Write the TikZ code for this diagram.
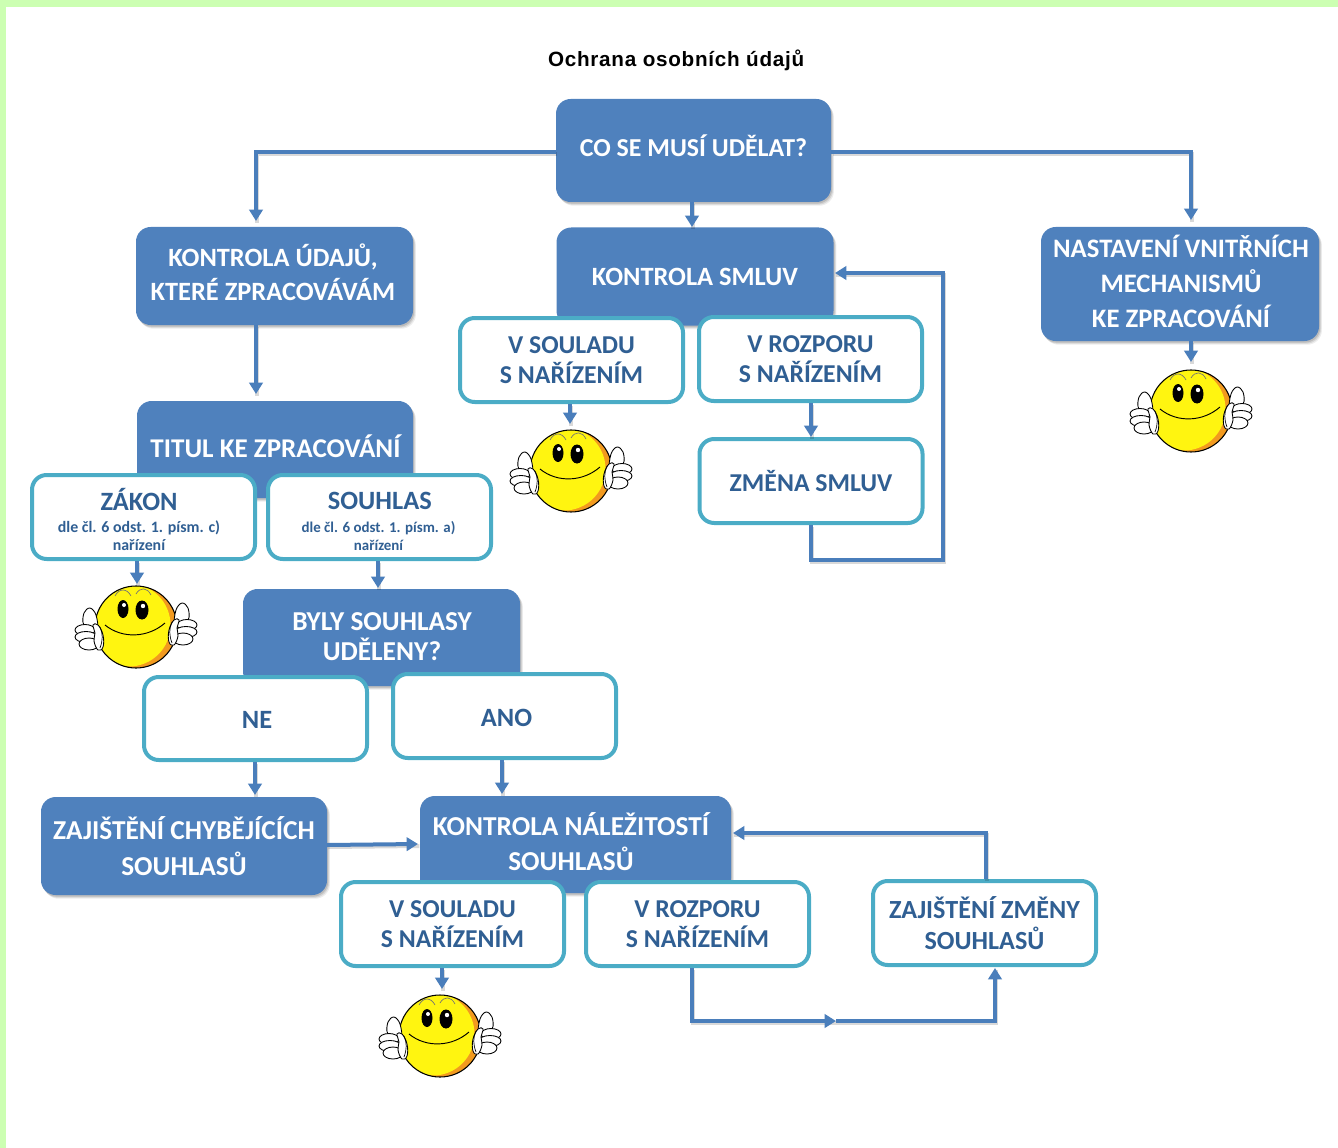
\documentclass[tikz,border=0pt]{standalone}
\usepackage{fontspec}
\setmainfont{Carlito}
\newfontfamily\titlefont[LetterSpace=3.5]{Liberation Sans}
\usetikzlibrary{arrows.meta,shadows,calc}
\definecolor{bluefill}{HTML}{4F81BD}
\definecolor{tealline}{HTML}{4BACC6}
\definecolor{arrowcol}{HTML}{4A7EBB}
\definecolor{navytext}{HTML}{305F93}
\definecolor{pagegreen}{HTML}{CCFFB2}
\definecolor{smileyyellow}{HTML}{FFF510}
\definecolor{smileyorange}{HTML}{F29A1F}
\tikzset{
  boxsize/.style 2 args={minimum width=#1*.75pt,minimum height=#2*.75pt},
  fs/.style 2 args={font=\bfseries\fontsize{#1}{#2}\selectfont},
  bluebox/.style={rectangle,rounded corners=11pt,fill=bluefill,text=white,align=center,inner sep=0pt,
    fs={19.8}{25.5},
    drop shadow={shadow xshift=2.2pt,shadow yshift=-2.8pt,opacity=.07,fill=black},
    drop shadow={shadow xshift=1.5pt,shadow yshift=-2pt,opacity=.1,fill=black},
    drop shadow={shadow xshift=.8pt,shadow yshift=-1.2pt,opacity=.12,fill=black}},
  bluetext/.style={text=white,align=center,inner sep=0pt},
  whitebox/.style={rectangle,rounded corners=11pt,draw=tealline,line width=3pt,fill=white,text=navytext,align=center,inner sep=0pt,
    fs={19.3}{22.5}},
  whitetext/.style={text=navytext,align=center,inner sep=0pt},
  lineshadow/.style={preaction={draw=black,opacity=.15,line width=3pt,-,transform canvas={shift={(1pt,-1.5pt)}}}},
  arr/.style={draw=arrowcol,line width=3pt,-{Triangle[length=8.5pt,width=10pt]},line join=miter,lineshadow},
  handline/.style={draw=black,line width=.65pt,fill=white,line join=round},
  smiley/.pic={
    \fill[smileyorange] (0,0) circle (41);
    \begin{scope}
      \clip (0,0) circle (41);
      \fill[smileyyellow] (-7,-2) circle (41.5);
    \end{scope}
    \draw[black,line width=.8pt] (0,0) circle (41);
    \draw[black!55,line width=.5pt] (-21,-31) .. controls (-17,-39) and (-9,-39) .. (-5,-31);
    \draw[black!55,line width=.5pt] (0,-33) .. controls (4,-40) and (11,-40) .. (15,-32);
    \fill[black] (-13,-18) ellipse (5.5 and 9);
    \fill[black] (6,-17) ellipse (6.5 and 9.5);
    \fill[white] (-12,-22) circle (2);
    \fill[white] (7,-21) circle (2.2);
    \draw[black,line width=.7pt] (-31,-2) .. controls (-14,12) and (12,11) .. (29,-4);
    \foreach \sx/\dy in {1/0,-1/-5}{
      \begin{scope}[shift={(0,\dy)},xscale=\sx]
        \draw[handline] plot[smooth cycle,tension=.6] coordinates {(-39,3) (-40,-12) (-46,-19) (-52,-14) (-52,-2)};
        \draw[handline] (-51,3) ellipse (10 and 5.5);
        \draw[handline] (-50,10) ellipse (11 and 5.5);
        \draw[handline] (-47,17) ellipse (10 and 6);
        \draw[handline] plot[smooth cycle,tension=.7] coordinates {(-43,-2) (-38,-2) (-33,8) (-33,20) (-38,23) (-42,14) (-41,6)};
        \draw[black,line width=.5pt] (-36,0) .. controls (-33,7) and (-33,13) .. (-36,21);
      \end{scope}
    }
  }
}
\begin{document}
\begin{tikzpicture}[x=.75pt,y=-.75pt]
\useasboundingbox (0,0) rectangle (1338,1148);
\fill[pagegreen] (0,0) rectangle (1338,7);
\fill[pagegreen] (0,0) rectangle (6,1148);

\node[font=\titlefont\fontsize{15.5}{18}\selectfont,text=black] (title) at (676.5,60) {\textbf{Ochrana osobních údajů}};

% blue boxes
\node[bluebox,boxsize={275}{103}] (co) at (693.5,150.5) {};
\node[bluetext,fs={19.4}{25}] (coT) at (693.5,145.5) {CO SE MUSÍ UDĚLAT?};
\node[bluebox,boxsize={277}{98}] (kudaje) at (274.5,276) {};
\node[bluetext,fs={19.8}{25.5}] (kudajeT) at (273,272) {KONTROLA ÚDAJŮ,\\KTERÉ ZPRACOVÁVÁM};
\node[bluebox,boxsize={277}{98}] (ksmluv) at (695,276.5) {KONTROLA SMLUV};
\node[bluebox,boxsize={278}{114}] (nast) at (1180,284) {};
\node[bluetext,fs={20}{26.2}] (nastT) at (1181,281.5) {NASTAVENÍ VNITŘNÍCH\\MECHANISMŮ\\KE ZPRACOVÁNÍ};
\node[bluebox,boxsize={276}{97}] (titul) at (275,449.5) {};
\node[bluetext,fs={20.3}{25}] (titulT) at (275.5,446) {TITUL KE ZPRACOVÁNÍ};
\node[bluebox,boxsize={277}{97}] (byly) at (381.5,637.5) {};
\node[bluetext,fs={20.5}{22.5}] (bylyT) at (382,636.5) {BYLY SOUHLASY\\UDĚLENY?};
\node[bluebox,boxsize={286}{98},fs={20.5}{27}] (zchyb) at (184,846) {ZAJIŠTĚNÍ CHYBĚJÍCÍCH\\SOUHLASŮ};
\node[bluebox,boxsize={311}{97}] (knal) at (575.5,844.5) {};
\node[bluetext,fs={20.5}{26}] (knalT) at (571,841.5) {KONTROLA NÁLEŽITOSTÍ\\SOUHLASŮ};

% white boxes
\node[whitebox,boxsize={223}{84}] (soulad1) at (571.5,360) {V SOULADU\\S NAŘÍZENÍM};
\node[whitebox,boxsize={223}{84}] (rozpor1) at (810.5,359) {V ROZPORU\\S NAŘÍZENÍM};
\node[whitebox,boxsize={223}{84}] (zmena) at (811,481) {ZMĚNA SMLUV};
\node[whitebox,boxsize={223}{84}] (zakon) at (143.5,517) {};
\node[whitetext,fs={19.8}{20}] (zakonT) at (139,519) {ZÁKON\\[-3pt]{\fontsize{11.9}{14}\selectfont dle čl. 6 odst. 1. písm. c)}\\[-7pt]{\fontsize{11.9}{14}\selectfont nařízení}};
\node[whitebox,boxsize={223}{84}] (souhlas) at (379.5,517) {};
\node[whitetext,fs={19.8}{20}] (souhlasT) at (378.5,521.5) {\makebox[0pt]{\hspace{2pt}SOUHLAS}\\[-3pt]{\fontsize{11.2}{14}\selectfont dle čl. 6 odst. 1. písm. a)}\\[-6.3pt]{\fontsize{11.2}{14}\selectfont nařízení}};
\node[whitebox,boxsize={223}{83}] (ne) at (255.5,718.5) {};
\node[whitetext,fs={19.8}{22.5}] (neT) at (257,720) {NE};
\node[whitebox,boxsize={223}{84}] (ano) at (504.5,716) {};
\node[whitetext,fs={19.8}{22.5}] (anoT) at (506.5,718) {ANO};
\node[whitebox,boxsize={223}{84}] (soulad2) at (452.5,924) {V SOULADU\\S NAŘÍZENÍM};
\node[whitebox,boxsize={223}{84}] (rozpor2) at (697.5,924) {V ROZPORU\\S NAŘÍZENÍM};
\node[whitebox,boxsize={223}{84},fs={19.6}{23}] (zmeny) at (984.5,923) {ZAJIŠTĚNÍ ZMĚNY\\SOUHLASŮ};

% smileys
\pic at (136,627) {smiley};
\pic at (571,471) {smiley};
\pic at (1191,411) {smiley};
\pic at (440,1036) {smiley};

% connector ends
\coordinate (tKud) at (256,221);
\coordinate (yCo) at (0,152);
\coordinate (tNast) at (1191,220);
\coordinate (tKsm) at (692,227);
\coordinate (tTit) at (256,394);
\coordinate (tS3) at (1191,362);
\coordinate (tS2) at (570,424);
\coordinate (tZm) at (811,437);
\coordinate (loopA) at (811,560);
\coordinate (loopB) at (943,560);
\coordinate (loopC) at (943,273);
\coordinate (tKsmR) at (835,273);
\coordinate (tS1) at (137,584);
\coordinate (tByl) at (378,588);
\coordinate (tZch) at (255,795);
\coordinate (tKnal) at (502,794);
\coordinate (zchR) at (327,845);
\coordinate (tKnalL) at (418,844);
\coordinate (tS4) at (442,989);
\coordinate (b1) at (692,1021);
\coordinate (bMid) at (836,1021);
\coordinate (b2) at (995,1021);
\coordinate (tZmeny) at (995,968);
\coordinate (up) at (986,833);
\coordinate (tKnalR) at (733,833);

% connectors
\draw[arr] (co.west |- yCo) -| (tKud);
\draw[arr] (co.east |- yCo) -| (tNast);
\draw[arr] (co.south -| tKsm) -- (tKsm);
\draw[arr] (kudaje.south -| tTit) -- (tTit);
\draw[arr] (nast.south -| tS3) -- (tS3);
\draw[arr] (soulad1.south -| tS2) -- (tS2);
\draw[arr] (rozpor1.south -| tZm) -- (tZm);
\draw[arr] (zmena.south -| loopA) -- (loopA) -- (loopB) -- (loopC) -- (tKsmR);
\draw[arr] (zakon.south -| tS1) -- (tS1);
\draw[arr] (souhlas.south -| tByl) -- (tByl);
\draw[arr] (ne.south -| tZch) -- (tZch);
\draw[arr] (ano.south -| tKnal) -- (tKnal);
\draw[arr] (zchR) -- (tKnalL);
\draw[arr] (soulad2.south -| tS4) -- (tS4);
\draw[arr] (rozpor2.south -| b1) -- (b1) -- (bMid);
\draw[arr] (bMid) -- (b2) -- (tZmeny);
\draw[arr] (zmeny.north -| up) -- (up) -- (tKnalR);
\end{tikzpicture}
\end{document}
